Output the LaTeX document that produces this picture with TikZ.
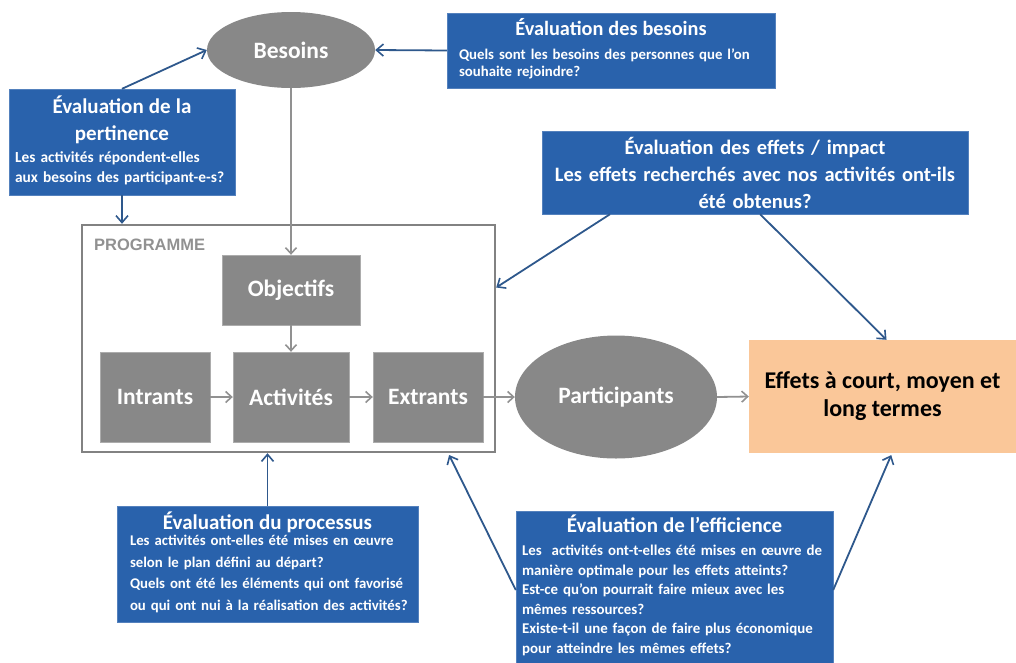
\documentclass[tikz,border=0pt]{standalone}
\usepackage{fontspec}
\setmainfont{Carlito}
\newfontfamily\progfont{Liberation Sans}
\usetikzlibrary{arrows.meta,calc,shapes.geometric}
\definecolor{evalblue}{RGB}{41,98,172}
\definecolor{arrowblue}{RGB}{46,88,140}
\definecolor{boxgrey}{RGB}{136,136,136}
\definecolor{linegrey}{RGB}{145,145,145}
\definecolor{peach}{RGB}{250,199,153}
\newcommand{\ttl}{\fontsize{21}{27}\selectfont\bfseries}
\newcommand{\bodylines}[1]{\begin{tabular}[t]{@{}l@{}}#1\end{tabular}}
\tikzset{
  evalbox/.style={fill=evalblue, draw=evalblue!80!white, text=white, inner sep=0pt, align=left},
  greybox/.style={fill=boxgrey, draw=boxgrey!70!white, text=white, inner sep=0pt, font=\fontsize{23.5}{28}\selectfont\bfseries},
  greyell/.style={ellipse, fill=boxgrey, text=white, inner sep=0pt, font=\fontsize{23.5}{28}\selectfont\bfseries},
  bluearrow/.style={draw=arrowblue, line width=1.8pt, -{Straight Barb[length=7pt,width=12pt,line width=1.6pt]}},
  greyarrow/.style={draw=linegrey, line width=1.8pt, -{Straight Barb[length=6pt,width=11pt,line width=1.6pt]}}
}
\begin{document}
\begin{tikzpicture}[x=1pt,y=-1pt]
\useasboundingbox (0,0) rectangle (1016,662);
% programme frame
\node[draw=linegrey!90!black, line width=2.4pt, minimum width=413pt, minimum height=227pt, inner sep=0pt] (prog) at (288.5,338.5) {};
\node[anchor=west, text=linegrey, font=\progfont\fontsize{16.5}{18}\selectfont\bfseries, inner sep=0pt] (proglbl) at (94,245) {PROGRAMME};
% grey nodes
\node[greyell, minimum width=168pt, minimum height=76pt] (bes) at (291,50) {Besoins};
\node[greybox, minimum width=138pt, minimum height=70pt] (obj) at (291,290) {Objectifs};
\node[greybox, minimum width=110pt, minimum height=90pt] (intr) at (155,397) {Intrants};
\node[greybox, minimum width=116pt, minimum height=90pt] (act) at (291,397) {Activités};
\node[greybox, minimum width=110pt, minimum height=90pt] (extr) at (428,397) {Extrants};
\node[greyell, minimum width=202pt, minimum height=123pt] (part) at (616,397) {Participants};
\node[fill=peach, inner sep=0pt, minimum width=267pt, minimum height=113pt, align=center, font=\fontsize{24}{28}\selectfont\bfseries] (eff) at (882.5,396.5) {Effets à court, moyen et\\long termes};
% evaluation boxes
\node[evalbox, minimum width=328pt, minimum height=75pt, text width=304pt, font=\fontsize{14.8}{17.5}\selectfont\bfseries] (beval) at (611,50.5)
 {{\centering\fontsize{20.3}{26}\selectfont Évaluation des besoins\par}\vspace{6pt}\bodylines{Quels sont les besoins des personnes que l'on\\souhaite rejoindre?}};
\node[evalbox, minimum width=226pt, minimum height=106pt, text width=214pt, font=\fontsize{15.4}{20}\selectfont\bfseries] (pert) at (122,142)
 {{\centering\ttl Évaluation de la\\pertinence\par}\vspace{2.5pt}\bodylines{Les activités répondent-elles\\aux besoins des participant-e-s?}};
\node[evalbox, minimum width=426pt, minimum height=83pt, text width=424pt, align=center, font=\fontsize{20.5}{27}\selectfont\bfseries] (effeval) at (755,172.5)
 {Évaluation des effets / impact\\Les effets recherchés avec nos activités ont-ils\\été obtenus?};
\node[evalbox, minimum width=301pt, minimum height=116pt, text width=275pt, font=\fontsize{14.8}{21.5}\selectfont\bfseries] (proc) at (267.5,564)
 {{\centering\fontsize{21}{24}\selectfont Évaluation du processus\par}\vspace{-5pt}\bodylines{Les activités ont-elles été mises en œuvre\\selon le plan défini au départ?\\Quels ont été les éléments qui ont favorisé\\ou qui ont nui à la réalisation des activités?}};
\node[evalbox, minimum width=317pt, minimum height=152pt, text width=305pt, font=\fontsize{14.9}{19.5}\selectfont\bfseries] (effic) at (674.5,587)
 {{\centering\ttl Évaluation de l’efficience\par}\vspace{4pt}\bodylines{Les\ \ activités ont-t-elles été mises en œuvre de\\manière optimale pour les effets atteints?\\Est-ce qu’on pourrait faire mieux avec les\\mêmes ressources?\\Existe-t-il une façon de faire plus économique\\pour atteindre les mêmes effets?}};
% grey connectors
\draw[greyarrow] (bes.south) -- (obj.north);
\draw[greyarrow] (obj.south) -- (act.north);
\draw[greyarrow] (intr.east) -- (act.west);
\draw[greyarrow] (act.east) -- (extr.west);
\draw[greyarrow] (extr.east) -- (part.west);
\draw[greyarrow] (part.east) -- (eff.west);
% blue connectors
\draw[bluearrow] (beval.west) -- (bes.east);
\draw[bluearrow] (pert.north) -- (bes.west);
\draw[bluearrow] (pert.south) -- (pert.south |- prog.north);
\draw[bluearrow] ($(effeval.south west)!0.16!(effeval.south east)$) -- ([yshift=51pt]prog.east);
\draw[bluearrow] ($(effeval.south west)!0.512!(effeval.south east)$) -- ([xshift=4pt]eff.north);
\draw[bluearrow] (proc.north) -- (proc.north |- prog.south);
\draw[bluearrow, shorten >=2pt] ([yshift=-3pt]effic.west) -- ([xshift=-48pt]prog.south east);
\draw[bluearrow, shorten >=2pt] ([yshift=-3pt]effic.east) -- ([xshift=9.5pt]eff.south);
\end{tikzpicture}
\end{document}
